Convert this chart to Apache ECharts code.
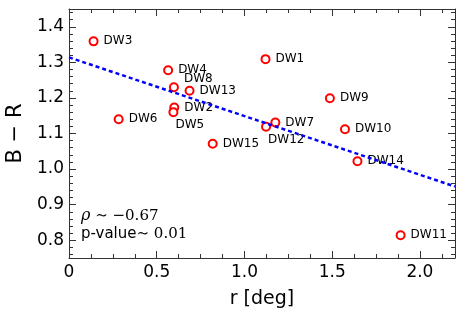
<!DOCTYPE html>
<html>
<head>
  <meta charset="UTF-8">
  <title>B - R vs r</title>
  <style>
    body { margin: 0; overflow: hidden; background: #fff; }
    #chart { width: 463px; height: 324px; }
  </style>
  <script src="https://cdn.jsdelivr.net/npm/echarts@6/dist/echarts.min.js"></script>
</head>
<body>
<div id="chart"></div>
<script>
  // galaxy names, radius (deg) and colour
  var names = ['DW1', 'DW2', 'DW3', 'DW4', 'DW5', 'DW6', 'DW7', 'DW8',
               'DW9', 'DW10', 'DW11', 'DW12', 'DW13', 'DW14', 'DW15'];
  var rDeg = [1.12, 0.60, 0.14, 0.565, 0.595, 0.283, 1.176, 0.598,
              1.487, 1.573, 1.89, 1.123, 0.687, 1.644, 0.819];
  var bMinusR = [1.309, 1.173, 1.359, 1.278, 1.160, 1.140, 1.131, 1.230,
                 1.199, 1.112, 0.814, 1.119, 1.220, 1.022, 1.071];

  // dashed fit line end points
  var fitX = [0, 2.2];
  var fitY = [1.314, 0.951];

  // ticks
  var xMajor = [0, 0.5, 1.0, 1.5, 2.0];
  var xMinor = [0.125, 0.25, 0.375, 0.625, 0.75, 0.875, 1.125, 1.25, 1.375,
                1.625, 1.75, 1.875, 2.125];
  var yMajor = [0.8, 0.9, 1.0, 1.1, 1.2, 1.3, 1.4];
  var yMinor = [0.76, 0.78, 0.82, 0.84, 0.86, 0.88, 0.92, 0.94, 0.96, 0.98,
                1.02, 1.04, 1.06, 1.08, 1.12, 1.14, 1.16, 1.18, 1.22, 1.24,
                1.26, 1.28, 1.32, 1.34, 1.36, 1.38, 1.42, 1.44];

  // a few labels sit somewhere other than to the right
  var labelShift = { DW8: [0, -8], DW5: [-8, 13], DW12: [-8, 13] };

  var myChart = echarts.init(document.getElementById('chart'));

  var lineCol = '#333';
  var font = 'DejaVu Sans';

  function xAx(pos, ticks, len, main) {
    return {
      type: 'value', min: 0, max: 2.2, position: pos,
      axisLine: { show: main, onZero: false, lineStyle: { color: lineCol, width: 1 } },
      axisTick: { show: true, inside: true, length: len, customValues: ticks,
                  lineStyle: { color: lineCol, width: 1 } },
      axisLabel: { show: main && pos === 'bottom', customValues: ticks, margin: 6,
                   color: '#000', fontSize: 17, fontFamily: font,
                   formatter: function (v) { return v === 0 ? '0' : v.toFixed(1); } },
      splitLine: { show: false }
    };
  }
  function yAx(pos, ticks, len, main) {
    return {
      type: 'value', min: 0.75, max: 1.45, position: pos,
      axisLine: { show: main, onZero: false, lineStyle: { color: lineCol, width: 1 } },
      axisTick: { show: true, inside: true, length: len, customValues: ticks,
                  lineStyle: { color: lineCol, width: 1 } },
      axisLabel: { show: main && pos === 'left', customValues: ticks, margin: 5,
                   color: '#000', fontSize: 17, fontFamily: font,
                   formatter: function (v) { return v.toFixed(1); } },
      splitLine: { show: false }
    };
  }

  var xAxes = [xAx('bottom', xMajor, 7, true), xAx('bottom', xMinor, 4, false),
               xAx('top', xMajor, 7, true), xAx('top', xMinor, 4, false)];
  xAxes[0].name = 'r [deg]';
  xAxes[0].nameLocation = 'middle';
  xAxes[0].nameGap = 32;
  xAxes[0].nameTextStyle = { fontSize: 19, color: '#000', fontFamily: font };

  var yAxes = [yAx('left', yMajor, 7, true), yAx('left', yMinor, 4, false),
               yAx('right', yMajor, 7, true), yAx('right', yMinor, 4, false)];
  yAxes[0].name = 'B \u2212 R';
  yAxes[0].nameLocation = 'middle';
  yAxes[0].nameGap = 40;
  yAxes[0].nameTextStyle = { fontSize: 21, color: '#000', fontFamily: font };

  var points = names.map(function (n, i) {
    var p = { name: n, value: [rDeg[i], bMinusR[i]] };
    if (labelShift[n]) p.label = { offset: labelShift[n] };
    return p;
  });

  var option = {
    animation: false,
    grid: { left: 69, top: 9, width: 386, height: 249, containLabel: false,
            outerBoundsMode: 'none' },
    xAxis: xAxes,
    yAxis: yAxes,
    graphic: [
      {
        type: 'text', left: 81, top: 208,
        style: {
          text: '{i|\u03c1}{s| \u223c \u22120.67}',
          rich: {
            i: { fontFamily: 'DejaVu Serif', fontStyle: 'italic', fontSize: 16, fill: '#000' },
            s: { fontFamily: 'DejaVu Serif', fontSize: 15, fill: '#000' }
          }
        }
      },
      {
        type: 'text', left: 81, top: 227,
        style: {
          text: '{a|p-value}{s|\u223c 0.01}',
          rich: {
            a: { fontFamily: font, fontSize: 15, fill: '#000' },
            s: { fontFamily: 'DejaVu Serif', fontSize: 15, fill: '#000' }
          }
        }
      }
    ],
    series: [
      {
        type: 'line',
        xAxisIndex: 0, yAxisIndex: 0,
        data: fitX.map(function (x, i) { return [x, fitY[i]]; }),
        symbol: 'none',
        lineStyle: { color: '#0000ff', width: 2.5, type: [4, 3] },
        z: 3
      },
      {
        type: 'scatter',
        xAxisIndex: 0, yAxisIndex: 0,
        data: points,
        symbol: 'circle',
        symbolSize: 8,
        itemStyle: { color: '#fff', borderColor: '#ff0000', borderWidth: 2, opacity: 1 },
        label: {
          show: true, position: 'right', distance: 5,
          formatter: '{b}', color: '#000', fontSize: 12, fontFamily: font
        },
        z: 2
      }
    ]
  };

  myChart.setOption(option);
</script>
</body>
</html>
